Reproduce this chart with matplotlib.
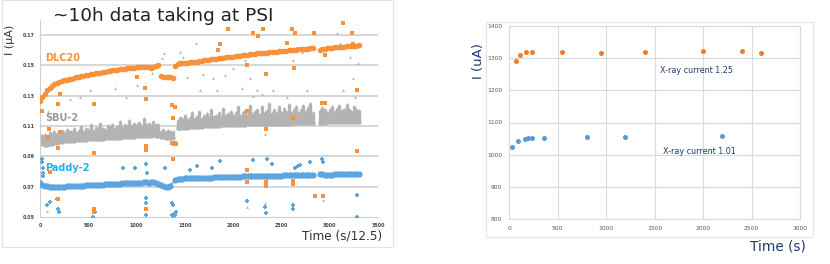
import numpy as np
import matplotlib
matplotlib.use("Agg")
import matplotlib.pyplot as plt
from matplotlib.patches import Rectangle

nan = np.nan

# ---------------- Left panel data (~10h at PSI) ----------------
STEP = 25
T = np.arange(0, 3301, STEP)  # sampling positions, Time (s/12.5)

DLC20 = [
    .1265, .1290, .1312, .1335, .1350, .1362, .1375, .1384, .1390, .1394,
    .1400, .1404, .1410, .1413, .1418, .1420, .1425, .1427, .1431, .1434,
    .1437, .1440, .1442, .1446, .1449, .1451, .1455, .1457, .1462, .1464,
    .1467, .1470, .1472, .1474, .1477, .1478, .1480, .1483, .1484, .1485,
    .1486, .1488, .1489, .1491, .1490, .1487, .1485, .1492, .1496, .1500,
    .1432, .1426, .1424, .1420, .1423, .1419, .1497, .1510, .1512, .1514,
    .1517, .1518, .1520, .1521, .1523, .1525, .1528, .1530, .1532, .1535,
    .1537, .1540, .1541, .1544, .1547, .1549, .1551, .1553, .1555, .1556,
    .1558, .1560, .1562, .1563, .1566, .1568, .1570, .1572, .1575, .1577,
    .1578, .1580, .1581, .1582, .1584, .1585, .1587, .1588, .1590, .1592,
    .1593, .1595, .1597, .1598, .1600, .1601, .1603, .1605, .1606, .1607,
    .1609, .1610, .1611, .1612, nan, nan, .1600, .1605, .1610, .1612,
    .1615, .1617, .1618, .1620, .1621, .1622, .1623, .1625, .1626, .1627,
    .1628, .1630, .1632,
]

PADDY2 = [
    .0725, .0714, .0706, .0702, .0700, .0701, .0699, .0700, .0701, .0700,
    .0701, .0702, .0702, .0703, .0704, .0705, .0705, .0706, .0707, .0708,
    .0708, .0709, .0711, .0712, .0713, .0713, .0714, .0715, .0716, .0716,
    .0717, .0718, .0719, .0720, .0721, .0721, .0722, .0723, .0724, .0723,
    .0725, .0726, .0727, .0728, .0729, .0727, .0730, .0728, .0722, .0716,
    .0710, .0705, .0700, .0698, .0702, nan, .0742, .0750, .0752, .0753,
    .0754, .0754, .0755, .0756, .0756, .0757, .0758, .0758, .0759, .0759,
    .0760, .0760, .0761, .0761, .0762, .0762, .0763, .0763, .0764, .0764,
    .0765, .0765, .0766, .0766, .0767, .0767, .0768, .0768, .0769, .0769,
    .0770, .0770, .0770, .0771, .0771, .0772, .0772, .0772, .0773, .0773,
    .0773, .0774, .0774, .0774, .0775, .0775, .0775, .0776, .0776, .0776,
    .0777, .0777, .0777, .0777, nan, nan, .0782, .0781, .0780, .0780,
    .0780, .0780, .0781, .0781, .0781, .0781, .0782, .0782, .0782, .0782,
    .0782, .0782, .0783,
]

SBU2_LOW = [
    .0990, .0978, .0972, .0975, .0980, .0984, .0988, .0991, .0994, .0996,
    .0998, .1000, .1001, .1003, .1004, .1005, .1006, .1008, .1009, .1010,
    .1011, .1012, .1013, .1014, .1015, .1016, .1017, .1018, .1019, .1020,
    .1021, .1022, .1023, .1024, .1025, .1026, .1027, .1028, .1029, .1030,
    .1031, .1032, .1033, .1034, .1035, .1036, .1037, .1038, .1037, .1036,
    .1026, .1025, .1024, .1023, .1024, .1022, nan, .1085, .1087, .1088,
    .1089, .1090, .1091, .1092, .1093, .1094, .1095, .1096, .1097, .1098,
    .1099, .1100, .1101, .1102, .1103, .1104, .1105, .1105, .1106, .1106,
    .1107, .1107, .1108, .1108, .1109, .1109, .1110, .1110, .1111, .1111,
    .1112, .1112, .1112, .1113, .1113, .1113, .1114, .1114, .1114, .1115,
    .1115, .1115, .1116, .1116, .1116, .1117, .1117, .1117, .1118, .1118,
    .1118, .1118, .1119, .1119, nan, nan, .1122, .1122, .1122, .1123,
    .1123, .1123, .1123, .1124, .1124, .1124, .1124, .1125, .1125, .1125,
    .1125, .1126, .1126,
]

SBU2_HIGH = [
    .1045, .1040, .1050, .1035, .1060, .1045, .1070, .1055, .1050, .1075,
    .1060, .1080, .1065, .1070, .1090, .1060, .1075, .1100, .1070, .1085,
    .1080, .1110, .1075, .1095, .1085, .1120, .1090, .1080, .1105, .1095,
    .1115, .1090, .1100, .1130, .1095, .1110, .1100, .1140, .1105, .1120,
    .1110, .1125, .1105, .1150, .1115, .1120, .1105, .1130, .1115, .1110,
    .1070, .1080, .1065, .1075, .1070, .1068, nan, .1140, .1160, .1150,
    .1175, .1145, .1160, .1190, .1150, .1165, .1200, .1155, .1170, .1185,
    .1160, .1210, .1165, .1175, .1190, .1160, .1220, .1170, .1185, .1200,
    .1170, .1195, .1230, .1175, .1190, .1205, .1180, .1240, .1185, .1200,
    .1215, .1180, .1230, .1190, .1205, .1250, .1185, .1210, .1195, .1235,
    .1190, .1220, .1200, .1245, .1195, .1215, .1230, .1190, .1210, .1240,
    .1200, .1225, .1250, .1195, nan, nan, .1205, .1225, .1215, .1195,
    .1210, .1235, .1200, .1220, .1240, .1205, .1215, .1245, .1210, .1200,
    .1230, .1215, .1205,
]

# outliers / isolated points
DLC20_OUT_X = [17, 86, 93, 104, 190, 190, 190, 207, 207, 563, 563, 563, 563, 1000, 1088,
               1095, 1095, 1095, 1095, 1364, 1380, 1380, 1398, 1372, 1380, 1388, 1396, 1404,
               1847, 1865, 1950, 2141, 2141, 2141, 2141, 2210, 2262, 2314, 2338, 2338, 2338,
               2338, 2555, 2607, 2635, 2640, 2624, 2624, 2624, 2842, 2849, 2918, 2953, 2935,
               2953, 3142, 3228, 3245, 3280, 3280]
DLC20_OUT_Y = [.120, .103, .108, .0795, .1245, .0952, .0616, .131, .1063, .1245, .0925, .055, .0535,
               .142, .135, .1275, .094, .055, .0965, .124, .1155, .0885, .1225, .0985, .0988,
               .0982, .0986, .0984, .160, .164, .174, .150, .1198, .0813, .0733, .171, .169, .174,
               .1445, .108, .0734, .0705, .165, .1737, .148, .171, .1155, .074, .0718, .1715,
               .0638, .125, .125, .064, .157, .178, .171, .164, .1335, .0937]

SBU2_OUT_X = [69, 86, 190, 311, 414, 518, 622, 777, 890, 1001, 1157, 1260, 1284, 1450, 1478,
              1519, 1616, 1657, 1692, 1796, 1830, 1917, 2003, 2090, 2124, 2176, 2210, 2245,
              2297, 2331, 2400, 2417, 2555, 2624, 2711, 2762, 2849, 3073, 3107, 3142, 3211,
              3297, 3245, 3263, 2935, 3280, 2141, 2331, 1355, 1365, 1375, 1385, 1395]
SBU2_OUT_Y = [.0542, .120, .1025, .128, .129, .134, .145, .1348, .129, .137, .145, .155, .158,
              .1585, .1555, .142, .1645, .134, .1445, .1415, .1335, .1435, .148, .1348, .1535,
              .1415, .130, .134, .131, .1045, .158, .134, .129, .1535, .159, .1335, .171,
              .1715, .165, .134, .1553, .1515, .1415, .129, .0615, .0643, .0564, .059,
              .0722, .0728, .0735, .0740, .0745]

PADDY2_OUT_X = [17, 17, 26, 26, 35, 69, 104, 180, 190, 200, 553, 570, 863, 984, 1095, 1095,
                1095, 1095, 1105, 1295, 1364, 1380, 1372, 1380, 1388, 1396, 1404, 1778, 1864,
                1554, 1623, 2141, 2210, 2331, 2338, 2348, 2400, 2624, 2624, 2640, 2676, 2693,
                2797, 2925, 2935, 3280, 3280]
PADDY2_OUT_Y = [.0884, .086, .0825, .079, .0767, .058, .060, .062, .0553, .053, .050, .053,
                .082, .082, .0848, .0625, .0595, .051, .0787, .082, .0595, .058, .0515, .0505,
                .0520, .0510, .0530, .0825, .087, .081, .0835, .0605, .0875, .0565, .0525,
                .0882, .085, .058, .0555, .0825, .0835, .0845, .0862, .0882, .0865, .0644, .050]

LEFT_YTICKS = [0.05, 0.07, 0.09, 0.11, 0.13, 0.15, 0.17]
LEFT_XTICKS = [0, 500, 1000, 1500, 2000, 2500, 3000, 3500]

# ---------------- Right panel data ----------------
XR125_T = [75, 110, 180, 240, 550, 950, 1400, 2000, 2400, 2600]
XR125_I = [1290, 1310, 1318, 1318, 1318, 1316, 1318, 1322, 1323, 1317]
XR101_T = [35, 90, 170, 200, 240, 360, 800, 1200, 2200]
XR101_I = [1025, 1042, 1049, 1051, 1051, 1051, 1054, 1054, 1059]
RIGHT_YTICKS = [800, 900, 1000, 1100, 1200, 1300, 1400]
RIGHT_XTICKS = [0, 500, 1000, 1500, 2000, 2500, 3000]

# ---------------- Styling ----------------
W, H = 830, 264
ORANGE_L = "#F7923A"
BLUE_L = "#5DA5DF"
GRAY_L = "#B3B3B3"
ORANGE_R = "#ED7D31"
BLUE_R = "#5B9BD5"
NAVY = "#1F3A6E"

fig = plt.figure(figsize=(W / 100, H / 100), dpi=100)
fig.patch.set_facecolor("white")

# panel frames
fig.add_artist(Rectangle((2 / W, 1 - 247 / H), 391 / W, 247 / H, transform=fig.transFigure,
                         fill=False, ec="#E4E4E4", lw=0.8))
fig.add_artist(Rectangle((486 / W, 1 - 237 / H), 327 / W, 215 / H, transform=fig.transFigure,
                         fill=False, ec="#E4E4E4", lw=0.8))

# ---------------- Left axes ----------------
axL = fig.add_axes([40 / W, 47 / H, 338 / W, 197.2 / H])
axL.set_xlim(0, 3500)
axL.set_ylim(0.05, 0.18)
for s in ["top", "right"]:
    axL.spines[s].set_visible(False)
for s in ["left", "bottom"]:
    axL.spines[s].set_color("#CFCFCF")
    axL.spines[s].set_linewidth(0.8)
axL.set_yticks(LEFT_YTICKS)
axL.set_yticklabels([f"{v:.2f}" for v in LEFT_YTICKS])
axL.set_xticks(LEFT_XTICKS)
axL.tick_params(length=0, labelsize=3.4, labelcolor="#444444", pad=4)
for lab in axL.get_xticklabels() + axL.get_yticklabels():
    lab.set_fontweight("bold")
for v in LEFT_YTICKS[1:]:
    axL.axhline(v, color="#CCCCCC", lw=1.1, zorder=0)

sbu_lo = np.array(SBU2_LOW)
sbu_hi = np.array(SBU2_HIGH)
axL.vlines(T, sbu_lo, sbu_hi, color=GRAY_L, lw=2.4, zorder=2)
axL.scatter(T, sbu_hi, s=5, marker="^", color=GRAY_L, lw=0, zorder=2)
axL.scatter(T, sbu_lo, s=10, marker="o", color=GRAY_L, lw=0, zorder=2)
axL.scatter(SBU2_OUT_X, SBU2_OUT_Y, s=4, marker="^", color=GRAY_L, lw=0, zorder=2)

axL.scatter(T, PADDY2, s=20, marker="o", color=BLUE_L, lw=0, zorder=3)
axL.scatter(PADDY2_OUT_X, PADDY2_OUT_Y, s=7, marker="P", color=BLUE_L, lw=0, zorder=3)

axL.scatter(T, DLC20, s=16, marker="o", color=ORANGE_L, lw=0, zorder=4)
axL.scatter(DLC20_OUT_X, DLC20_OUT_Y, s=6, marker="s", color=ORANGE_L, lw=0, zorder=4)

axL.text(57, 0.1545, "DLC20", color=ORANGE_L, fontsize=7, fontweight="bold", va="center")
axL.text(57, 0.1155, "SBU-2", color="#9A9A9A", fontsize=7, fontweight="bold", va="center")
axL.text(57, 0.0820, "Paddy-2", color="#22AEEA", fontsize=7, fontweight="bold", va="center")

fig.text(53 / W, 1 - 16 / H, "~10h data taking at PSI", fontsize=13.3, color="#222222",
         va="center", ha="left")
fig.text(10 / W, 1 - 40 / H, "I (\u03bcA)", fontsize=8, rotation=90, color="#333333",
         va="center", ha="center")
fig.text(382 / W, 1 - 236 / H, "Time (s/12.5)", fontsize=8.7, color="#333333",
         va="center", ha="right")

# ---------------- Right axes ----------------
axR = fig.add_axes([509 / W, 45 / H, 291 / W, 193 / H])
axR.set_xlim(0, 3000)
axR.set_ylim(800, 1400)
axR.set_xticks(RIGHT_XTICKS)
axR.set_yticks(RIGHT_YTICKS)
axR.grid(True, color="#D9D9D9", lw=0.8)
axR.set_axisbelow(True)
for s in axR.spines.values():
    s.set_color("#D9D9D9")
    s.set_linewidth(0.8)
axR.tick_params(length=0, labelsize=4.3, labelcolor="#595959", pad=5)
axR.scatter(XR125_T, XR125_I, s=13, color=ORANGE_R, lw=0, zorder=3)
axR.scatter(XR101_T, XR101_I, s=13, color=BLUE_R, lw=0, zorder=3)
axR.text(1560, 1263, "X-ray current 1.25", fontsize=5.8, color=NAVY, va="center")
axR.text(1585, 1010, "X-ray current 1.01", fontsize=5.8, color=NAVY, va="center")

fig.text(478 / W, 1 - 61 / H, "I (uA)", fontsize=9.5, rotation=90, color=NAVY,
         va="center", ha="center")
fig.text(806 / W, 1 - 247 / H, "Time (s)", fontsize=9.8, color=NAVY, va="center", ha="right")

fig.savefig("out.png", dpi=100, facecolor="white")
